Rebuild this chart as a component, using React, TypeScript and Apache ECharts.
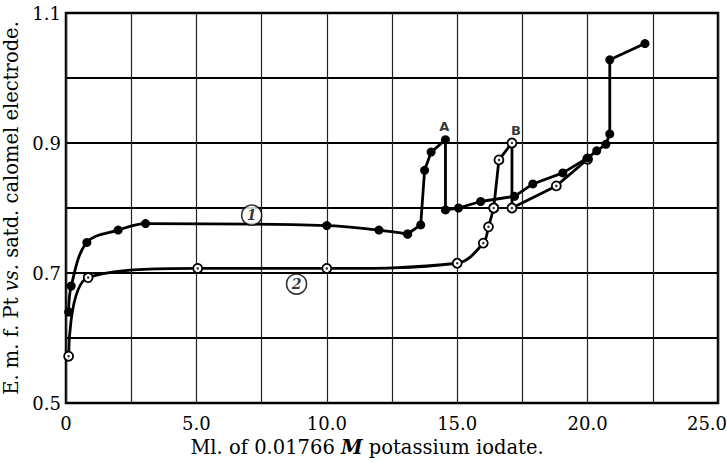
import React, { useEffect, useRef } from "react";
import * as echarts from "echarts";

// Curve 1 (filled dots)
const c1EarlyX = [0.1, 0.2, 0.8, 2.0, 3.05, 10.0, 12.0, 13.1];
const c1EarlyY = [0.64, 0.68, 0.747, 0.766, 0.776, 0.773, 0.766, 0.76];
const c1LateX = [13.6, 13.75, 14.0, 14.55, 14.55, 15.05, 15.9, 17.2, 17.9, 19.05, 20.0, 20.35, 20.7, 20.85, 20.85, 22.2];
const c1LateY = [0.774, 0.858, 0.886, 0.905, 0.797, 0.8, 0.81, 0.818, 0.837, 0.854, 0.877, 0.888, 0.898, 0.914, 1.028, 1.053];

// Curve 2 (open circles)
const c2EarlyX = [0.1, 0.85, 5.05, 10.0, 15.0, 16.0, 16.2, 16.4];
const c2EarlyY = [0.572, 0.693, 0.707, 0.707, 0.715, 0.746, 0.771, 0.8];
const c2LateX = [16.6, 17.1, 17.1, 18.8, 20.0];
const c2LateY = [0.874, 0.9, 0.8, 0.834, 0.875];

// Annotations
const circleLabels = ["1", "2"];
const circleX = [7.12, 8.84];
const circleY = [0.789, 0.683];
const letterLabels = ["A", "B"];
const letterX = [14.5, 17.25];
const letterY = [0.926, 0.919];

const xTickLabels = ["0", "5.0", "10.0", "15.0", "20.0", "25.0"];
const yTickLabels = ["0.5", "0.7", "0.9", "1.1"];

const SERIF = "DejaVu Serif";
const INK = "#000";

const zip = (xs: number[], ys: number[]) => xs.map((x, i) => [x, ys[i]]);

export default function App() {
  const ref = useRef<HTMLDivElement>(null);
  useEffect(() => {
    document.body.style.margin = "0";
    const chart = echarts.init(ref.current!, null, { renderer: "svg" });
    const c1a = zip(c1EarlyX, c1EarlyY);
    const c1b = [c1a[c1a.length - 1], ...zip(c1LateX, c1LateY)];
    const c2a = zip(c2EarlyX, c2EarlyY);
    const c2b = [c2a[c2a.length - 1], ...zip(c2LateX, c2LateY)];
    const c2all = [...c2a, ...zip(c2LateX, c2LateY)];
    const lineStyle = { color: INK, width: 2.8 };
    const filled = { color: INK, borderColor: INK, borderWidth: 0 };
    const open = { color: "#fff", borderColor: INK, borderWidth: 1.8 };
    chart.setOption({
      animation: false,
      backgroundColor: "#fff",
      grid: {
        left: 66,
        right: 9,
        top: 13,
        bottom: 60,
        show: true,
        borderColor: INK,
        borderWidth: 2.5,
        backgroundColor: "transparent",
        containLabel: false,
        outerBoundsMode: "none",
      },
      xAxis: {
        type: "value",
        min: 0,
        max: 25,
        interval: 2.5,
        axisLine: { show: false },
        axisTick: { show: false },
        splitLine: { show: true, lineStyle: { color: "#222", width: 1.2 } },
        axisLabel: {
          fontFamily: SERIF,
          fontSize: 18,
          color: INK,
          margin: 11,
          formatter: (v: number) => {
            const k = Math.round(v / 5);
            if (Math.abs(v - k * 5) > 1e-6) return "";
            const s = xTickLabels[k] ?? "";
            return k === xTickLabels.length - 1 ? `{last|${s}}` : s;
          },
          rich: {
            last: { fontFamily: SERIF, fontSize: 18, color: INK, padding: [0, 22, 0, 0] },
          },
        },
      },
      yAxis: {
        type: "value",
        min: 0.5,
        max: 1.1,
        interval: 0.1,
        axisLine: { show: false },
        axisTick: { show: false },
        splitLine: { show: true, lineStyle: { color: INK, width: 2 } },
        axisLabel: {
          fontFamily: SERIF,
          fontSize: 18,
          color: INK,
          margin: 5,
          formatter: (v: number) => {
            const t = Math.round(v * 10);
            if (t % 2 !== 1) return "";
            return yTickLabels[(t - 5) / 2] ?? "";
          },
        },
        name: "E. m. f. Pt {i|vs.} satd. calomel electrode.",
        nameLocation: "middle",
        nameGap: 38,
        nameTextStyle: {
          fontFamily: SERIF,
          fontSize: 19.5,
          color: INK,
          rich: { i: { fontFamily: SERIF, fontSize: 19.5, fontStyle: "italic", color: INK } },
        },
      },
      graphic: [
        {
          type: "text",
          x: 367,
          y: 447,
          style: {
            text: "Ml. of 0.01766 {i|M} potassium iodate.",
            fontFamily: SERIF,
            fontSize: 19.5,
            fill: INK,
            align: "center",
            verticalAlign: "middle",
            rich: { i: { fontFamily: SERIF, fontSize: 19.5, fontStyle: "italic", fontWeight: "bold", fill: INK } },
          },
        },
      ],
      series: [
        {
          type: "line",
          data: c2a,
          smooth: 0.35,
          symbol: "circle",
          symbolSize: 9,
          lineStyle,
          itemStyle: open,
          z: 2,
        },
        {
          type: "line",
          data: c2b,
          smooth: false,
          symbol: "circle",
          symbolSize: 9,
          lineStyle,
          itemStyle: open,
          z: 2,
        },
        {
          type: "scatter",
          data: c2all,
          symbol: "circle",
          symbolSize: 2.5,
          itemStyle: { color: INK },
          z: 3,
        },
        {
          type: "line",
          data: c1a,
          smooth: 0.35,
          symbol: "circle",
          symbolSize: 9,
          lineStyle,
          itemStyle: filled,
          z: 4,
        },
        {
          type: "line",
          data: c1b,
          smooth: false,
          symbol: "circle",
          symbolSize: 9,
          lineStyle,
          itemStyle: filled,
          z: 4,
        },
        {
          type: "scatter",
          data: zip(circleX, circleY),
          symbol: "circle",
          symbolSize: 20,
          itemStyle: { color: "#fff", borderColor: INK, borderWidth: 1.6 },
          label: {
            show: true,
            position: "inside",
            formatter: (p: any) => circleLabels[p.dataIndex],
            fontFamily: SERIF,
            fontSize: 14,
            fontWeight: "bold",
            fontStyle: "italic",
            color: INK,
          },
          z: 5,
        },
        {
          type: "scatter",
          data: zip(letterX, letterY),
          symbolSize: 0,
          label: {
            show: true,
            position: "inside",
            formatter: (p: any) => letterLabels[p.dataIndex],
            fontFamily: "DejaVu Sans",
            fontSize: 13,
            fontWeight: "bold",
            color: INK,
          },
          z: 5,
        },
      ],
    });
    return () => chart.dispose();
  }, []);
  return <div ref={ref} style={{ width: 727, height: 463 }} />;
}
